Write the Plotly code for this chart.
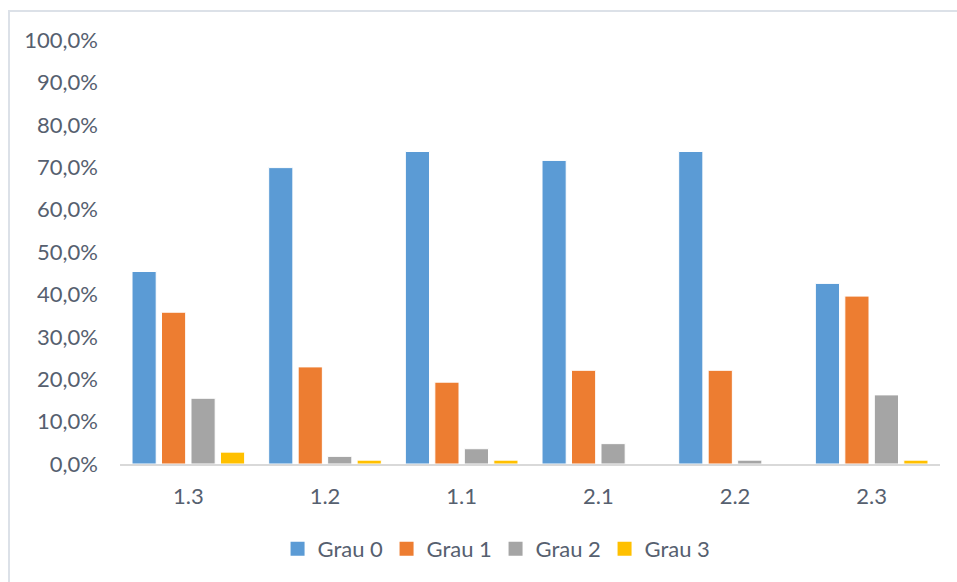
import plotly.graph_objects as go

# Categories and share of each grade per category
categories = ["1.3", "1.2", "1.1", "2.1", "2.2", "2.3"]
series_names = ["Grau 0", "Grau 1", "Grau 2", "Grau 3"]
grau0 = [0.454, 0.699, 0.737, 0.716, 0.737, 0.426]
grau1 = [0.358, 0.229, 0.193, 0.221, 0.221, 0.396]
grau2 = [0.155, 0.018, 0.036, 0.048, 0.009, 0.163]
grau3 = [0.028, 0.009, 0.009, 0.0, 0.0, 0.009]
colors = ["#5B9BD5", "#ED7D31", "#A5A5A5", "#FFC000"]

W, H = 957, 582
L, R, T, B = 120, 17, 40, 118
pw, ph = W - L - R, H - T - B

font_family = "Lato, 'Open Sans', sans-serif"
text_color = "#56606F"

fig = go.Figure()
for name, vals, col in zip(series_names, [grau0, grau1, grau2, grau3], colors):
    fig.add_trace(go.Bar(
        x=categories, y=vals, name=name, legendgroup=name, showlegend=False,
        marker=dict(color=col, line=dict(color="white", width=1)),
    ))
# legend keys drawn as square markers
for name, col in zip(series_names, colors):
    fig.add_trace(go.Scatter(
        x=[None], y=[None], name=name, legendgroup=name, mode="markers",
        marker=dict(symbol="square", size=14, color=col),
    ))

# outer chart frame: top and left edges
def px_x(p):
    return (p - L) / pw

def px_y(p):
    return (H - B - p) / ph

frame = "#DCE1E8"
fig.add_shape(type="line", xref="paper", yref="paper",
              x0=px_x(8), x1=px_x(W + 5), y0=px_y(11), y1=px_y(11),
              line=dict(color=frame, width=2))
fig.add_shape(type="line", xref="paper", yref="paper",
              x0=px_x(9), x1=px_x(9), y0=px_y(10), y1=px_y(H + 5),
              line=dict(color=frame, width=2))

fig.update_layout(
    width=W, height=H,
    margin=dict(l=L, r=R, t=T, b=B),
    paper_bgcolor="white", plot_bgcolor="white",
    separators=",.",
    barmode="group", bargap=0.137, bargroupgap=0.18,
    font=dict(family=font_family, size=22, color=text_color),
    yaxis=dict(range=[0, 1.0], tickvals=[i / 10 for i in range(11)],
               tickformat=".1%", showgrid=False, zeroline=False,
               showline=False, ticks="", ticklabelstandoff=21,
               tickfont=dict(size=22, color=text_color)),
    xaxis=dict(showline=True, linecolor="#D9D9D9", linewidth=2,
               ticks="", ticklabelstandoff=12,
               tickfont=dict(size=22, color=text_color)),
    legend=dict(orientation="h", x=0.458, xanchor="center",
                y=-0.2005, yanchor="middle",
                font=dict(size=22, color=text_color),
                entrywidth=64, entrywidthmode="pixels",
                itemwidth=30,
                bgcolor="rgba(0,0,0,0)"),
)

fig.write_html("out.html")
